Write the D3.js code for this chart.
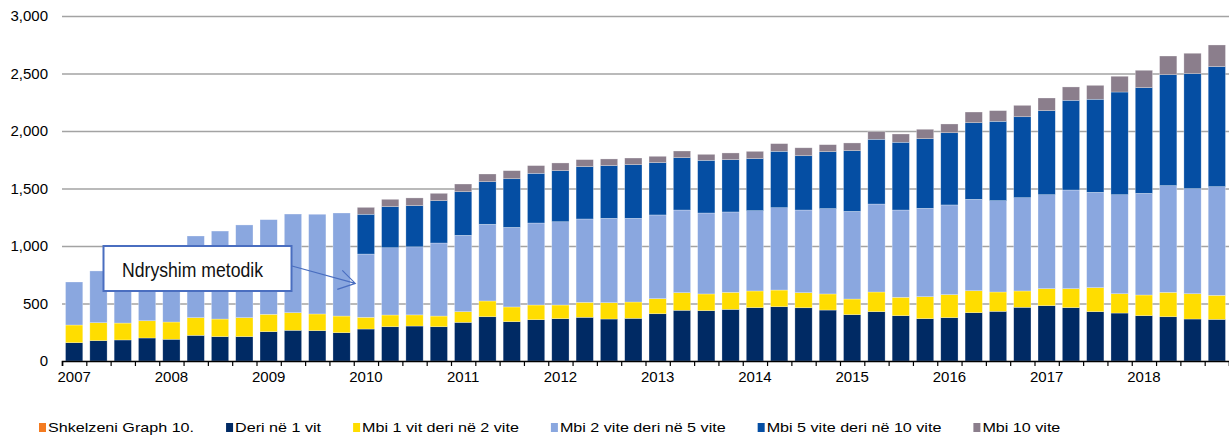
<!DOCTYPE html>
<html>
<head>
<meta charset="utf-8">
<script src="https://cdn.jsdelivr.net/npm/d3@7"></script>
<style>
  body { margin: 0; background: #fff; }
  svg { display: block; font-family: "Liberation Sans", Arial, sans-serif; }
</style>
</head>
<body>
<div id="vis"></div>
<script>
// quarterly, 2007Q1 .. 2018Q4
const years = ["2007", "2008", "2009", "2010", "2011", "2012", "2013", "2014", "2015", "2016", "2017", "2018"];
const quarters = years.flatMap(y => ["Q1", "Q2", "Q3", "Q4"].map(q => y + q));

const deri1 = [159, 177, 183, 200, 189, 223, 212, 212, 255, 267, 264, 246,
  278, 298, 304, 298, 336, 385, 342, 359, 368, 380, 365, 371,
  411, 441, 438, 449, 464, 472, 463, 443, 403, 429, 394, 368,
  377, 420, 432, 467, 481, 464, 429, 417, 394, 385, 365, 362];
const mbi1deri2 = [154, 156, 147, 150, 150, 154, 153, 165, 151, 153, 145, 145,
  102, 102, 97, 93, 93, 137, 128, 128, 119, 130, 142, 142,
  131, 153, 145, 148, 145, 145, 131, 140, 136, 171, 160, 191,
  200, 191, 168, 142, 148, 165, 209, 168, 180, 212, 220, 209];
const mbi2deri5 = [374, 450, 500, 550, 621, 710, 765, 806, 823, 858, 867, 896,
  550, 585, 592, 635, 664, 667, 692, 713, 724, 725, 734, 728,
  728, 719, 704, 699, 698, 716, 719, 742, 762, 765, 759, 769,
  780, 795, 794, 811, 817, 858, 829, 861, 884, 928, 914, 945];
const mbi5deri10 = [0, 0, 0, 0, 0, 0, 0, 0, 0, 0, 0, 0,
  346, 357, 358, 368, 379, 370, 423, 432, 444, 455, 458, 466,
  455, 455, 458, 455, 453, 490, 472, 495, 528, 563, 589, 605,
  628, 666, 690, 704, 731, 780, 809, 893, 919, 965, 1000, 1044];
const mbi10 = [0, 0, 0, 0, 0, 0, 0, 0, 0, 0, 0, 0,
  60, 64, 67, 64, 67, 67, 70, 67, 67, 61, 58, 58,
  55, 58, 52, 58, 63, 67, 69, 61, 67, 66, 72, 82,
  76, 93, 93, 99, 110, 116, 121, 137, 151, 162, 177, 188];

const yTicks = [0, 500, 1000, 1500, 2000, 2500, 3000];

const seriesKeys = ["deri1", "mbi1", "mbi2", "mbi5", "mbi10"];
const legendLabels = ["Shkelzeni Graph 10.", "Deri në 1 vit", "Mbi 1 vit deri në 2 vite",
  "Mbi 2 vite deri në 5 vite", "Mbi 5 vite deri në 10 vite", "Mbi 10 vite"];
const legendColors = ["#F47B20", "#002A64", "#FFDD00", "#8AA7DF", "#054EA3", "#8B7E8C"];

const W = 1229, H = 440;
const margin = { top: 16, right: 0, bottom: 79, left: 62 };
const width = W - margin.left - margin.right;
const height = H - margin.top - margin.bottom;

const data = quarters.map((q, i) => ({
  q: q,
  deri1: deri1[i], mbi1: mbi1deri2[i], mbi2: mbi2deri5[i], mbi5: mbi5deri10[i], mbi10: mbi10[i]
}));

const stacked = d3.stack().keys(seriesKeys)(data);

const svg = d3.select("#vis").append("svg")
  .attr("width", W)
  .attr("height", H);

const g = svg.append("g")
  .attr("transform", `translate(${margin.left},${margin.top})`);

const x = d3.scaleBand()
  .domain(quarters)
  .range([0, width])
  .paddingInner(0.29)
  .paddingOuter(0.145);

const xEdge = d3.scaleLinear()
  .domain([0, quarters.length])
  .range([0, width]);

const y = d3.scaleLinear()
  .domain([0, 3000])
  .range([height, 0]);

const color = d3.scaleOrdinal()
  .domain(seriesKeys)
  .range(legendColors.slice(1));

// gridlines
g.append("g")
  .call(d3.axisLeft(y).tickValues(yTicks.slice(1)).tickSize(-width).tickFormat(""))
  .call(s => s.select(".domain").remove())
  .selectAll("line")
  .attr("stroke", "#a3a3a3")
  .attr("stroke-width", 1.3);

// y labels
g.append("g")
  .call(d3.axisLeft(y).tickValues(yTicks).tickSize(0).tickPadding(14).tickFormat(d3.format(",")))
  .call(s => s.select(".domain").remove())
  .selectAll("text")
  .attr("fill", "#000")
  .style("font-size", "15px");

// bars
g.selectAll(".layer")
  .data(stacked)
  .join("g")
  .attr("class", "layer")
  .attr("fill", d => color(d.key))
  .selectAll("rect")
  .data(d => d.filter(s => s[1] - s[0] > 0))
  .join("rect")
  .attr("x", d => x(d.data.q))
  .attr("width", x.bandwidth())
  .attr("y", d => y(d[1]))
  .attr("height", d => y(d[0]) - y(d[1]))
  .attr("stroke", "rgba(255,255,255,0.45)")
  .attr("stroke-width", 0.6);

// x axis: boundary ticks
g.append("g")
  .attr("transform", `translate(0,${height})`)
  .call(d3.axisBottom(xEdge).tickValues(d3.range(quarters.length + 1)).tickSize(5).tickFormat(""))
  .call(s => s.select(".domain").attr("stroke", "#000").attr("stroke-width", 1.6))
  .selectAll("line")
  .attr("stroke", "#000")
  .attr("stroke-width", 1.2);

// year labels under Q1 bars
g.append("g")
  .attr("transform", `translate(0,${height})`)
  .call(d3.axisBottom(x).tickValues(quarters.filter(q => q.endsWith("Q1"))).tickSize(0).tickPadding(10)
    .tickFormat(q => q.slice(0, 4)))
  .call(s => s.select(".domain").remove())
  .selectAll("text")
  .attr("fill", "#000")
  .style("font-size", "15px");

// annotation
const tipX = x(quarters[12]) - 2;
const tipY = y(675);
const ann = g.append("g");
ann.append("rect")
  .attr("x", 103.5 - margin.left)
  .attr("y", 246 - margin.top)
  .attr("width", 188)
  .attr("height", 45)
  .attr("fill", "#fff")
  .attr("stroke", "#4A6EC0")
  .attr("stroke-width", 2);
ann.append("text")
  .attr("x", 122 - margin.left)
  .attr("y", 277 - margin.top)
  .attr("textLength", 141)
  .attr("lengthAdjust", "spacingAndGlyphs")
  .style("font-size", "21px")
  .attr("fill", "#111")
  .text("Ndryshim metodik");
ann.append("path")
  .attr("d", `M${292 - margin.left},${266 - margin.top} L${tipX},${tipY}
              M${tipX - 13},${tipY - 13} L${tipX},${tipY} L${tipX - 18},${tipY + 6}`)
  .attr("fill", "none")
  .attr("stroke", "#4A6EC0")
  .attr("stroke-width", 1.2);

// legend
const legend = svg.append("g").attr("transform", "translate(39,423)");
let lx = 0;
legendLabels.forEach((label, i) => {
  const item = legend.append("g").attr("transform", `translate(${lx},0)`);
  item.append("rect")
    .attr("width", 7)
    .attr("height", 9)
    .attr("fill", legendColors[i]);
  const t = item.append("text")
    .attr("x", 9)
    .attr("y", 9)
    .attr("fill", "#000")
    .style("font-size", "13px")
    .text(label);
  const tw = t.node().getComputedTextLength() * 1.24;
  t.attr("textLength", tw).attr("lengthAdjust", "spacingAndGlyphs");
  lx += 9 + tw + 32;
});
</script>
</body>
</html>
